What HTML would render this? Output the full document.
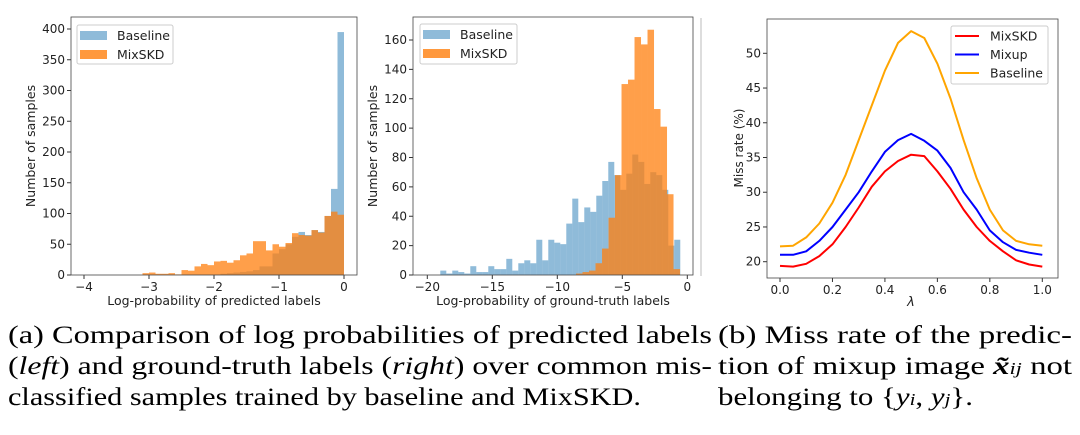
<!DOCTYPE html>
<html><head><meta charset="utf-8"><style>
body{margin:0;background:#fff;width:1080px;height:435px;overflow:hidden}
svg{display:block}
text{font-family:"DejaVu Sans","Liberation Sans",sans-serif;fill:#222}
.cap{font-family:"Liberation Serif",serif;font-size:25px;fill:#000}
</style></head><body>
<svg id="fig" width="1080" height="435" xmlns="http://www.w3.org/2000/svg">
<line x1="701" y1="18" x2="701" y2="276" stroke="#bbb" stroke-width="1"/>
<g>
<text class="cap" x="8" y="343" textLength="704" lengthAdjust="spacingAndGlyphs">(a) Comparison of log probabilities of predicted labels</text>
<text class="cap" x="8" y="374" textLength="704" lengthAdjust="spacingAndGlyphs">(<tspan font-style="italic">left</tspan>) and ground-truth labels (<tspan font-style="italic">right</tspan>) over common mis-</text>
<text class="cap" x="8" y="405" textLength="633" lengthAdjust="spacingAndGlyphs">classified samples trained by baseline and MixSKD.</text>
</g>
<g>
<text class="cap" x="718" y="343" textLength="354" lengthAdjust="spacingAndGlyphs">(b) Miss rate of the predic-</text>
<text class="cap" x="718" y="374" textLength="354" lengthAdjust="spacingAndGlyphs">tion of mixup image <tspan font-weight="bold" font-style="italic">x̃</tspan><tspan font-style="italic" font-size="17">ij</tspan> not</text>
<text class="cap" x="718" y="405" textLength="255" lengthAdjust="spacingAndGlyphs">belonging to {<tspan font-style="italic">y</tspan><tspan font-size="17" font-style="italic">i</tspan>, <tspan font-style="italic">y</tspan><tspan font-size="17" font-style="italic">j</tspan>}.</text>
</g>
</svg>
<script>
// ---- chart 1 data (predicted labels) ----
const c1Start = -3.1;
const c1Width = 0.1;
const c1Mix = [3,4,2,2,3,1,8,7,14,18,16,22,23,20,24,32,35,55,55,40,50,46,52,68,65,64,73,69,96,103,98];
const c1Base = [0,0,0,0,0,0,0,0,0,0,0,0,2,3,4,5,6,8,14,14,35,42,50,62,70,65,73,70,96,140,395];
const c1XTicks = [-4,-3,-2,-1,0];
const c1YTicks = [0,50,100,150,200,250,300,350,400];
// ---- chart 2 data (ground-truth labels) ----
const c2BaseStart = -19.0;
const c2BaseWidth = 0.4615;
const c2Base = [3,1,3,2,1,6,2,2,6,4,4,11,3,8,10,8,24,10,24,22,21,35,52,36,46,43,54,64,77,68,58,69,82,77,62,70,68,58,20,24];
const c2MixStart = -8.56;
const c2MixWidth = 0.5;
const c2Mix = [1,2,3,8,18,39,68,130,133,162,157,167,113,101,55,4];
const c2XTicks = [-20,-15,-10,-5,0];
const c2YTicks = [0,20,40,60,80,100,120,140,160];
// ---- chart 3 data (miss rate) ----
const c3Lambda = [0,0.05,0.1,0.15,0.2,0.25,0.3,0.35,0.4,0.45,0.5,0.55,0.6,0.65,0.7,0.75,0.8,0.85,0.9,0.95,1.0];
const c3MixSKD = [19.4,19.3,19.7,20.8,22.5,25,27.8,30.8,33,34.5,35.4,35.2,33,30.5,27.5,25,23,21.5,20.2,19.6,19.3];
const c3Mixup = [21,21,21.5,23,25,27.5,30,33,35.8,37.5,38.4,37.4,36,33.5,30,27.5,24.5,22.8,21.7,21.3,21];
const c3Baseline = [22.2,22.3,23.5,25.5,28.5,32.5,37.5,42.5,47.5,51.5,53.2,52.2,48.5,43.5,37.5,32,27.5,24.5,23,22.5,22.3];
const c3XTicks = [0,0.2,0.4,0.6,0.8,1.0];
const c3YTicks = [20,25,30,35,40,45,50];

const NS="http://www.w3.org/2000/svg";
const fig=document.getElementById('fig');
function mk(tag,attrs,parent){const e=document.createElementNS(NS,tag);for(const k in attrs)e.setAttribute(k,attrs[k]);(parent||fig).appendChild(e);return e;}
function lin(d0,d1,r0,r1){return v=>r0+(v-d0)*(r1-r0)/(d1-d0);}

function axes(g,box,sx,sy,xt,yt,fmtX,fmtY,name){
  for(const t of xt){
    const x=sx(t);
    const l=mk('line',{x1:x,x2:x,y1:box.b,y2:box.b+4,stroke:'#333'},g);
    
    
    const tx=mk('text',{x:x,y:box.b+16,'text-anchor':'middle','font-size':12},g);
    tx.textContent=fmtX(t);
    
    
  }
  for(const t of yt){
    const y=sy(t);
    const l=mk('line',{x1:box.l-4,x2:box.l,y1:y,y2:y,stroke:'#333'},g);
    
    
    const tx=mk('text',{x:box.l-6,y:y+4,'text-anchor':'end','font-size':12},g);
    tx.textContent=fmtY(t);
    
    
  }
  const f=mk('rect',{x:box.l,y:box.t,width:box.r-box.l,height:box.b-box.t,fill:'none',stroke:'#444','stroke-width':0.8},g);
  
  
}
const minus=v=>(v<0?'\u2212':'')+Math.abs(v);

function bars(g,start,w,vals,sx,sy,fill,op,name){
  vals.forEach((v,i)=>{
    if(v<=0)return;
    const x0=sx(start+i*w),x1=sx(start+(i+1)*w);
    const r=mk('rect',{x:x0,y:sy(v),width:x1-x0,height:sy(0)-sy(v),fill:fill,'fill-opacity':op},g);
    
    
  });
}
function legendHist(g,x,y,w,h){
  const b=mk('rect',{x:x,y:y,width:w,height:h,fill:'#fff','fill-opacity':0.85,stroke:'#ccc',rx:2},g);
  
  
  [['Baseline','#1f77b4',0.5],['MixSKD','#ff7f0e',0.8]].forEach((e,i)=>{
    const p=mk('rect',{x:x+3,y:y+6+i*19,width:27,height:9,fill:e[1],'fill-opacity':e[2]},g);
    
    
    const t=mk('text',{x:x+40,y:y+15+i*19,'font-size':12.5},g);
    t.textContent=e[0];
    
    
  });
}

// chart 1
(function(){
  const g=mk('g',{});  
  const box={l:71,r:357,t:17,b:275};
  const sx=lin(-4,0,84,344), sy=lin(0,400,275,29);
  bars(g,c1Start,c1Width,c1Base,sx,sy,'#1f77b4',0.5,'bar-baseline');
  bars(g,c1Start,c1Width,c1Mix,sx,sy,'#ff7f0e',0.75,'bar-mixskd');
  axes(g,box,sx,sy,c1XTicks,c1YTicks,minus,String,'chart1');
  legendHist(g,77,25,96,39);
  const xl=mk('text',{x:214,y:305,'text-anchor':'middle','font-size':12.5},g); xl.textContent='Log-probability of predicted labels';
   
  const yl=mk('text',{x:0,y:0,'text-anchor':'middle','font-size':12.5,transform:'translate(35,146) rotate(-90)'},g); yl.textContent='Number of samples';
   
})();
// chart 2
(function(){
  const g=mk('g',{});  
  const box={l:413,r:693,t:17,b:275};
  const sx=lin(-20,0,427.3,687.3), sy=lin(0,160,275,40);
  bars(g,c2BaseStart,c2BaseWidth,c2Base,sx,sy,'#1f77b4',0.5,'bar-baseline');
  bars(g,c2MixStart,c2MixWidth,c2Mix,sx,sy,'#ff7f0e',0.75,'bar-mixskd');
  axes(g,box,sx,sy,c2XTicks,c2YTicks,minus,String,'chart2');
  legendHist(g,420,24,97,40);
  const xl=mk('text',{x:553,y:305,'text-anchor':'middle','font-size':12.5},g); xl.textContent='Log-probability of ground-truth labels';
   
  const yl=mk('text',{x:0,y:0,'text-anchor':'middle','font-size':12.5,transform:'translate(377,146) rotate(-90)'},g); yl.textContent='Number of samples';
   
})();
// chart 3
(function(){
  const g=mk('g',{});  
  const box={l:767,r:1058,t:19,b:278};
  const sx=lin(0,1,780,1042.3), sy=lin(20,50,261.7,53.3);
  const series=[['MixSKD',c3MixSKD,'#ff0000'],['Mixup',c3Mixup,'#0000ff'],['Baseline',c3Baseline,'#ffa500']];
  series.forEach(s=>{
    const d=s[1].map((v,i)=>(i?'L':'M')+sx(c3Lambda[i]).toFixed(1)+','+sy(v).toFixed(1)).join('');
    const p=mk('path',{d:d,fill:'none',stroke:s[2],'stroke-width':2,'stroke-linejoin':'round'},g);
    
    
  });
  axes(g,box,sx,sy,c3XTicks,c3YTicks,v=>v.toFixed(1),String,'chart3');
  const b=mk('rect',{x:951,y:26,width:97,height:58,fill:'#fff','fill-opacity':0.85,stroke:'#ccc',rx:2},g);
   
  series.forEach((s,i)=>{
    const y=36+i*18.5;
    const l=mk('line',{x1:955,x2:979,y1:y,y2:y,stroke:s[2],'stroke-width':2},g);
     
    const t=mk('text',{x:990,y:y+4.5,'font-size':12.5},g); t.textContent=s[0];
     
  });
  const xl=mk('text',{x:911,y:306,'text-anchor':'middle','font-size':13,'font-style':'italic'},g); xl.textContent='λ';
   
  const yl=mk('text',{x:0,y:0,'text-anchor':'middle','font-size':12,transform:'translate(743,148) rotate(-90)'},g); yl.textContent='Miss rate (%)';
   
})();
</script>
</body></html>
